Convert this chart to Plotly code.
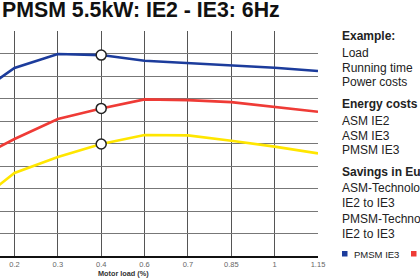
import plotly.graph_objects as go

categories = ["0.1", "0.2", "0.3", "0.4", "0.6", "0.7", "0.85", "1", "1.15"]
pmsm_ie3 = [7.0, 8.36, 8.98, 8.93, 8.68, 8.58, 8.46, 8.37, 8.22]
asm_ie3 = [4.2, 5.2, 6.09, 6.56, 6.96, 6.93, 6.84, 6.64, 6.41]
asm_ie2 = [2.18, 3.69, 4.4, 4.98, 5.38, 5.36, 5.12, 4.86, 4.56]
marker_category = "0.4"

BLUE = "#1c3c9c"
RED = "#ef3b36"
YELLOW = "#ffe600"
FONT = "Liberation Sans, Arial, sans-serif"

W, H = 420, 280
L, R, T, B = 0, 102, 31, 24
PW, PH = W - L - R, H - T - B


def px(x):
    return (x - L) / PW


def py(y):
    return (H - B - y) / PH


fig = go.Figure()
for name, vals, col in [("ASM IE2", asm_ie2, YELLOW), ("ASM IE3", asm_ie3, RED), ("PMSM IE3", pmsm_ie3, BLUE)]:
    fig.add_trace(go.Scatter(x=categories, y=vals, mode="lines", name=name,
                             line=dict(color=col, width=2.6), showlegend=False,
                             cliponaxis=True))

mi = categories.index(marker_category)
fig.add_trace(go.Scatter(x=[marker_category] * 3, y=[pmsm_ie3[mi], asm_ie3[mi], asm_ie2[mi]],
                         mode="markers", showlegend=False,
                         marker=dict(size=10, color="white", line=dict(color="#222", width=1.5)),
                         cliponaxis=False))

fig.update_xaxes(type="category", categoryorder="array", categoryarray=categories,
                 range=[0.666, 8.0], showgrid=True, gridcolor="#555", gridwidth=1,
                 showline=True, linecolor="#111", linewidth=1.6, ticks="",
                 tickfont=dict(family=FONT, size=7.5, color="#666"), ticklabelstandoff=0,
                 zeroline=False)
fig.update_yaxes(range=[0, 10], dtick=1, showgrid=True, gridcolor="#777", gridwidth=1,
                 showticklabels=False, zeroline=False, ticks="")

annotations = []


def txt(x, y, text, size=12, bold=False, color="#222", anchor="left"):
    annotations.append(dict(x=px(x), y=py(y), xref="paper", yref="paper",
                            text=f"<b>{text}</b>" if bold else text, showarrow=False,
                            xanchor=anchor, yanchor="middle",
                            font=dict(family=FONT, size=size, color=color)))


txt(0, 9.8, "PMSM 5.5kW: IE2 - IE3: 6Hz", size=21.3, bold=True, color="#111")
txt(123, 273.5, "Motor load (%)", size=7.3, bold=True, color="#333", anchor="center")

rx = 340
txt(rx, 36, "Example:", bold=True)
txt(rx, 53, "Load")
txt(rx, 68, "Running time")
txt(rx, 82, "Power costs")
txt(rx, 104, "Energy costs", bold=True)
txt(rx, 120.5, "ASM IE2")
txt(rx, 135.5, "ASM IE3")
txt(rx, 150, "PMSM IE3")
txt(rx, 172, "Savings in Euro", bold=True)
txt(rx, 188, "ASM-Technology")
txt(rx, 202.5, "IE2 to IE3")
txt(rx, 219, "PMSM-Technology")
txt(rx, 233.5, "IE2 to IE3")
txt(352, 254, "PMSM IE3", size=9.5)
txt(425, 254, "ASM IE3", size=9.5)

shapes = [
    dict(type="rect", xref="paper", yref="paper", x0=px(342), x1=px(347.5), y0=py(256.5), y1=py(251),
         fillcolor=BLUE, line=dict(width=0)),
    dict(type="rect", xref="paper", yref="paper", x0=px(411), x1=px(416.5), y0=py(256.5), y1=py(251),
         fillcolor=RED, line=dict(width=0)),
]

fig.update_layout(width=W, height=H, margin=dict(l=L, r=R, t=T, b=B),
                  paper_bgcolor="white", plot_bgcolor="white",
                  annotations=annotations, shapes=shapes, showlegend=False)

fig.write_html("out.html")
